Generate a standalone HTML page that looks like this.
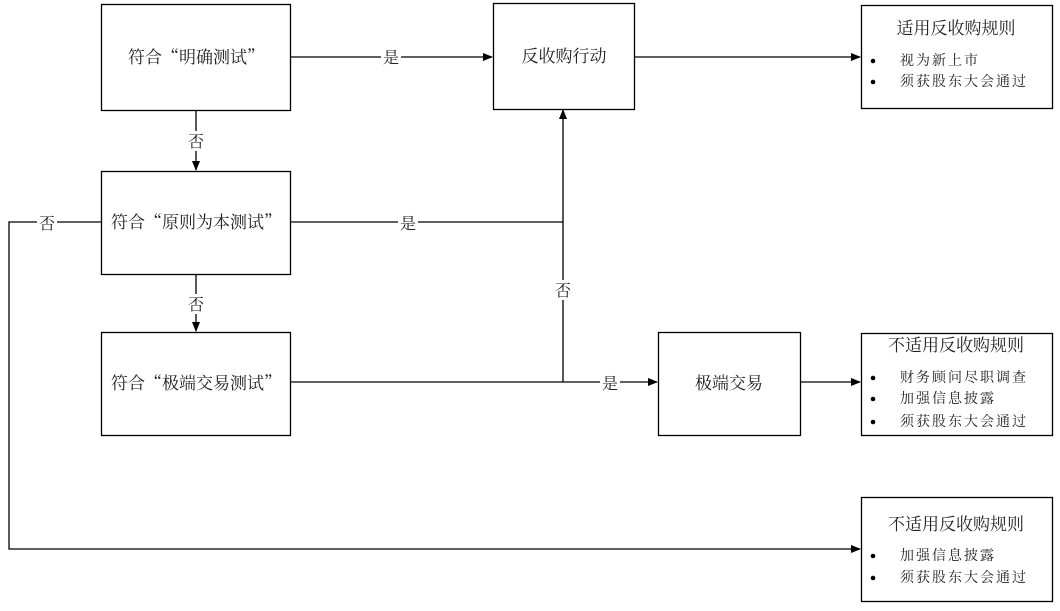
<!DOCTYPE html>
<html><head><meta charset="utf-8"><style>
body{margin:0;background:#fff;width:1060px;height:611px;overflow:hidden}
svg{display:block}
text{font-family:"Liberation Serif","Noto Serif CJK SC",serif;fill:#222}
.c{font-family:"Noto Serif CJK SC","Noto Sans CJK SC",serif}
</style></head><body>
<svg width="1060" height="611" viewBox="0 0 1060 611">
<defs><marker id="a" markerWidth="10" markerHeight="8" refX="9" refY="4" orient="auto" markerUnits="userSpaceOnUse"><path d="M0,0L10,4L0,8z" fill="#000"/></marker></defs>
<g fill="none" stroke="#000" stroke-width="1.3">
<rect x="101.5" y="4.5" width="189" height="106"/>
<rect x="101.5" y="171.5" width="189" height="103"/>
<rect x="101.5" y="332.5" width="189" height="103"/>
<rect x="493.5" y="3.5" width="141" height="106"/>
<rect x="658.5" y="332.5" width="142" height="103"/>
<rect x="861.5" y="5.5" width="191" height="103"/>
<rect x="861.5" y="333.5" width="191" height="102"/>
<rect x="861.5" y="497.5" width="191" height="104"/>
<path d="M290,57H492" marker-end="url(#a)"/>
<path d="M634,57H860" marker-end="url(#a)"/>
<path d="M196,110V170" marker-end="url(#a)"/>
<path d="M196,274V331" marker-end="url(#a)"/>
<path d="M290,222H563"/>
<path d="M290,382H657" marker-end="url(#a)"/>
<path d="M563,382V110" marker-end="url(#a)"/>
<path d="M800,382H860" marker-end="url(#a)"/>
<path d="M101,222H9V549H860" marker-end="url(#a)"/>
</g>
<g font-size="16">
<rect x="381" y="47" width="20" height="20" fill="#fff"/><text x="383" y="63">是</text>
<rect x="398" y="212" width="20" height="20" fill="#fff"/><text x="400" y="229">是</text>
<rect x="600" y="372" width="20" height="20" fill="#fff"/><text x="602" y="389">是</text>
<rect x="186" y="131" width="20" height="20" fill="#fff"/><text x="188" y="147">否</text>
<rect x="186" y="294" width="20" height="20" fill="#fff"/><text x="188" y="310">否</text>
<rect x="553" y="280" width="20" height="20" fill="#fff"/><text x="555" y="296">否</text>
<rect x="37" y="212" width="20" height="20" fill="#fff"/><text x="39" y="229">否</text>
</g>
<g font-size="17" text-anchor="middle" class="c">
<text x="196" y="63" class="c">符合“明确测试”</text>
<text x="196" y="228" class="c">符合“原则为本测试”</text>
<text x="196" y="389" class="c">符合“极端交易测试”</text>
</g>
<g font-size="17" text-anchor="middle">
<text x="564" y="62">反收购行动</text>
<text x="729" y="389">极端交易</text>
<text x="956" y="34">适用反收购规则</text>
<text x="956" y="351">不适用反收购规则</text>
<text x="956" y="530">不适用反收购规则</text>
</g>
<g font-size="14" letter-spacing="2">
<text x="900" y="65">视为新上市</text>
<text x="900" y="86">须获股东大会通过</text>
<text x="900" y="382">财务顾问尽职调查</text>
<text x="900" y="403">加强信息披露</text>
<text x="900" y="426">须获股东大会通过</text>
<text x="900" y="560">加强信息披露</text>
<text x="900" y="582">须获股东大会通过</text>
</g>
<g fill="#000">
<circle cx="873" cy="61" r="2.3"/><circle cx="873" cy="82" r="2.3"/>
<circle cx="873" cy="378" r="2.3"/><circle cx="873" cy="399" r="2.3"/><circle cx="873" cy="422" r="2.3"/>
<circle cx="873" cy="556" r="2.3"/><circle cx="873" cy="578" r="2.3"/>
</g>
</svg>
</body></html>
